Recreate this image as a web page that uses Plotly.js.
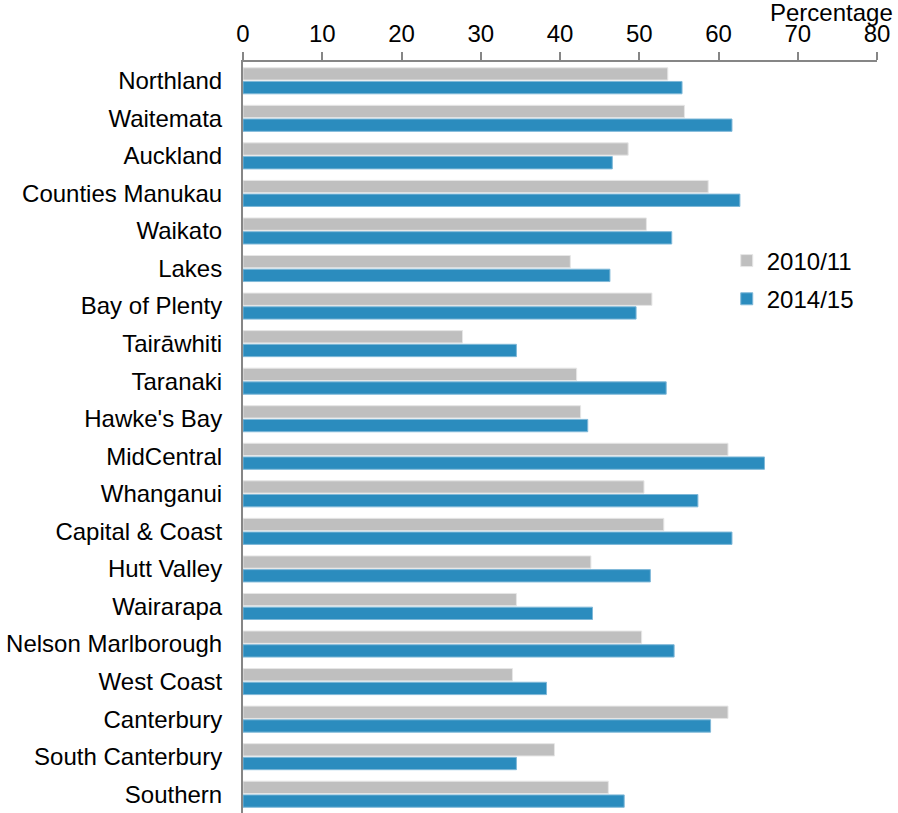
<!DOCTYPE html>
<html>
<head>
<meta charset="utf-8">
<script src="https://cdn.plot.ly/plotly-3.0.1.min.js"></script>
<style>html,body{margin:0;padding:0;background:#fff;}#chart{width:898px;height:813px;}</style>
</head>
<body>
<div id="chart"></div>
<script>
const categories = ["Northland","Waitemata","Auckland","Counties Manukau","Waikato","Lakes","Bay of Plenty","Tairāwhiti","Taranaki","Hawke's Bay","MidCentral","Whanganui","Capital & Coast","Hutt Valley","Wairarapa","Nelson Marlborough","West Coast","Canterbury","South Canterbury","Southern"];
const series2010 = [53.6,55.7,48.6,58.7,50.9,41.3,51.6,27.7,42.1,42.6,61.2,50.6,53.1,43.9,34.5,50.3,34.0,61.2,39.3,46.1];
const series2014 = [55.4,61.7,46.6,62.7,54.1,46.3,49.6,34.5,53.4,43.5,65.8,57.4,61.7,51.4,44.1,54.4,38.3,59.0,34.5,48.1];
const seriesNames = ["2010/11","2014/15"];
const xTicks = [0,10,20,30,40,50,60,70,80];

const font = {family: "Liberation Sans, Arial, sans-serif", size: 24, color: "#000"};

const traces = [
  {type:"bar", orientation:"h", name:seriesNames[0], y:categories, x:series2010,
   marker:{color:"#BFBFBF", line:{color:"#e6e6e6", width:1}}, legendgroup:"a"},
  {type:"bar", orientation:"h", name:seriesNames[1], y:categories, x:series2014,
   marker:{color:"#2B8CBE", line:{color:"#7fb8d8", width:1}}, legendgroup:"b"}
];

const layout = {
  width:898, height:813,
  margin:{l:243, r:21, t:62, b:0},
  paper_bgcolor:"#fff", plot_bgcolor:"#fff",
  font:font,
  barmode:"group", bargap:0.27, bargroupgap:0.1,
  showlegend:true,
  legend:{x:0.763, y:0.765, xanchor:"left", yanchor:"top", font:font, bgcolor:"rgba(0,0,0,0)", tracegroupgap:4, traceorder:"grouped", itemwidth:30},
  xaxis:{side:"top", range:[0,80], tickvals:xTicks, ticktext:xTicks.map(String),
    showgrid:false, zeroline:false, showline:true, linecolor:"#868686", linewidth:2,
    ticks:"outside", ticklen:8, tickwidth:2, tickcolor:"#868686", tickfont:font, fixedrange:true},
  yaxis:{type:"category", autorange:"reversed", showgrid:false, zeroline:false,
    showline:true, linecolor:"#868686", linewidth:2, ticks:"", tickfont:font, ticklabelstandoff:14},
  annotations:[{text:"Percentage", xref:"paper", yref:"paper", x:1.028, y:1, xanchor:"right", yanchor:"bottom", yshift:34, showarrow:false, font:font}]
};

Plotly.newPlot("chart", traces, layout, {displayModeBar:false, staticPlot:true});
</script>
</body>
</html>
